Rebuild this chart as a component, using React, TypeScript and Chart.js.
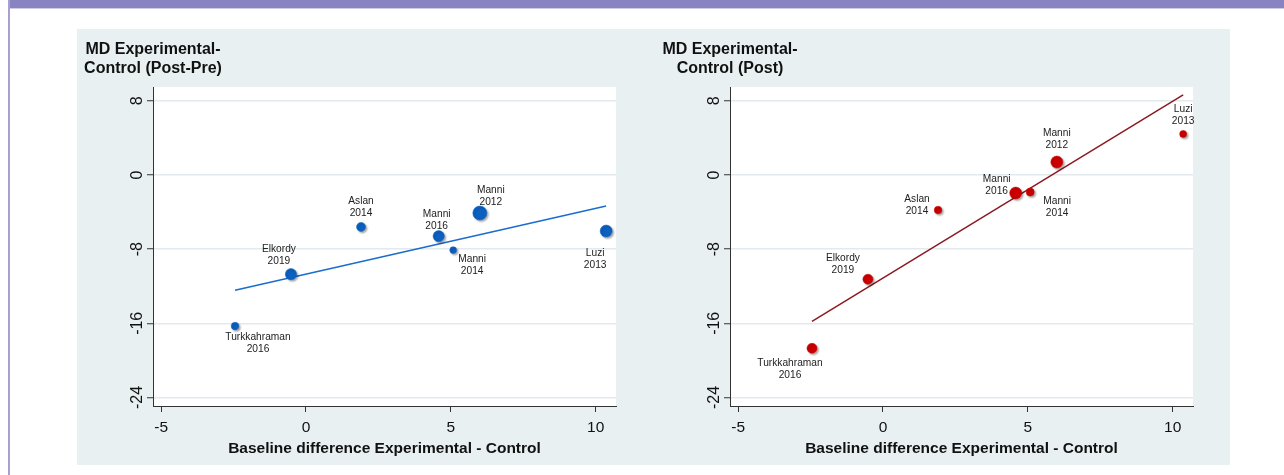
import React, { useEffect, useRef } from 'react';
import { Chart, registerables } from 'chart.js';

Chart.register(...registerables);

// ---------- Data ----------
const studyNames = ['Turkkahraman', 'Elkordy', 'Aslan', 'Manni', 'Manni', 'Manni', 'Luzi'];
const studyYears = ['2016', '2019', '2014', '2016', '2014', '2012', '2013'];
const baselineDiff = [-2.45, -0.52, 1.9, 4.58, 5.08, 6.0, 10.36];

const mdPostPre = [-16.3, -10.7, -5.6, -6.6, -8.1, -4.1, -6.05];
const weightPostPre = [3.8, 5.6, 4.5, 5.6, 3.4, 7, 6];
const fitPostPreX = [-2.45, 10.36];
const fitPostPreY = [-12.43, -3.35];

const mdPost = [-18.7, -11.24, -3.78, -1.95, -1.84, 1.4, 4.43];
const weightPost = [5, 5, 3.8, 6, 4, 6, 3.5];
const fitPostX = [-2.45, 10.36];
const fitPostY = [-15.8, 8.65];

const xTickValues = [-5, 0, 5, 10];
const yTickValues = [8, 0, -8, -16, -24];

const titlePostPre = ['MD Experimental-', 'Control (Post-Pre)'];
const titlePost = ['MD Experimental-', 'Control (Post)'];
const xAxisTitle = 'Baseline difference Experimental - Control';

// ---------- Label placement (style) ----------
const labelOffsetPostPre = [[23, 17], [-12, -19], [0, -20], [-2, -16], [19, 15], [11, -17], [-11, 28]];
const labelOffsetPost = [[-22, 21], [-25, -15], [-21, -5], [-19, -8], [27, 15], [0, -23], [0, -19]];

const FONT = '"Liberation Sans", Arial, Helvetica, sans-serif';

type PanelProps = {
  md: number[];
  weight: number[];
  fitX: number[];
  fitY: number[];
  title: string[];
  offsets: number[][];
  markerColor: string;
  lineColor: string;
  width: number;
  plotLeft: number;
  plotRight: number;
};

function Panel(props: PanelProps) {
  const ref = useRef<HTMLCanvasElement | null>(null);
  useEffect(() => {
    const canvas = ref.current;
    if (!canvas) return;
    const H = 436;
    const plotTop = 58;
    const plotBottom = 377;

    const textPlugin = {
      id: 'stataText',
      beforeDraw(chart: any) {
        const { ctx, chartArea } = chart;
        ctx.save();
        ctx.fillStyle = '#ffffff';
        ctx.fillRect(chartArea.left, chartArea.top, chartArea.right - chartArea.left, chartArea.bottom - chartArea.top);
        ctx.restore();
      },
      beforeDatasetDraw(chart: any, args: any) {
        if (args.index === 1) {
          const ctx = chart.ctx;
          ctx.save();
          ctx.shadowColor = 'rgba(0,0,0,0.35)';
          ctx.shadowBlur = 2;
          ctx.shadowOffsetX = 1.5;
          ctx.shadowOffsetY = 1.5;
        }
      },
      afterDatasetDraw(chart: any, args: any) {
        if (args.index === 1) chart.ctx.restore();
      },
      afterDraw(chart: any) {
        const { ctx, chartArea, scales } = chart;
        const xs = scales.x;
        const ys = scales.y;
        ctx.save();
        // titles
        ctx.fillStyle = '#111111';
        ctx.textAlign = 'center';
        ctx.textBaseline = 'middle';
        ctx.font = `bold 16px ${FONT}`;
        props.title.forEach((t, i) => ctx.fillText(t, chartArea.left, 21 + i * 19));
        ctx.font = `bold 15.5px ${FONT}`;
        ctx.fillText(xAxisTitle, (chartArea.left + chartArea.right) / 2, 420);
        // y tick labels (rotated)
        ctx.font = `16px ${FONT}`;
        yTickValues.forEach((v) => {
          const py = ys.getPixelForValue(v);
          ctx.save();
          ctx.translate(chartArea.left - 15, py);
          ctx.rotate(-Math.PI / 2);
          ctx.fillText(String(v), 0, 0);
          ctx.restore();
        });
        // marker labels
        ctx.font = `10.2px ${FONT}`;
        ctx.fillStyle = '#222222';
        baselineDiff.forEach((x, i) => {
          const px = xs.getPixelForValue(x);
          const py = ys.getPixelForValue(props.md[i]);
          const [dx, dy] = props.offsets[i];
          ctx.fillText(studyNames[i], px + dx, py + dy - 6);
          ctx.fillText(studyYears[i], px + dx, py + dy + 6);
        });
        ctx.restore();
      },
    };

    const chart = new Chart(canvas, {
      type: 'scatter',
      data: {
        datasets: [
          {
            data: props.fitX.map((x, i) => ({ x, y: props.fitY[i] })),
            showLine: true,
            borderColor: props.lineColor,
            borderWidth: 1.5,
            pointRadius: 0,
            order: 1,
          },
          {
            data: baselineDiff.map((x, i) => ({ x, y: props.md[i] })),
            pointRadius: props.weight,
            pointBackgroundColor: props.markerColor,
            pointBorderColor: props.markerColor,
            pointBorderWidth: 0.5,
            order: 0,
          },
        ],
      },
      options: {
        animation: false,
        responsive: false,
        devicePixelRatio: 1,
        layout: { padding: { top: plotTop, right: props.width - props.plotRight, left: 0, bottom: 0 } },
        plugins: { legend: { display: false }, tooltip: { enabled: false }, title: { display: false } },
        scales: {
          x: {
            type: 'linear',
            min: -5.28,
            max: 10.7,
            afterBuildTicks: (s: any) => {
              s.ticks = xTickValues.map((value) => ({ value }));
            },
            afterFit: (s: any) => {
              s.height = H - plotBottom;
            },
            grid: { drawOnChartArea: false, drawTicks: true, tickLength: 6, tickColor: '#333333', tickWidth: 1 },
            border: { display: true, color: '#333333', width: 1 },
            ticks: { font: { family: FONT, size: 15.5 }, color: '#111111', padding: 6, maxRotation: 0 },
          },
          y: {
            type: 'linear',
            min: -24.92,
            max: 9.49,
            afterBuildTicks: (s: any) => {
              s.ticks = yTickValues.map((value) => ({ value }));
            },
            afterFit: (s: any) => {
              s.width = props.plotLeft;
            },
            grid: { color: '#e2eaee', lineWidth: 1.5, drawTicks: true, tickLength: 6, tickColor: '#333333', tickWidth: 1 },
            border: { display: true, color: '#333333', width: 1 },
            ticks: { display: false },
          },
        },
      },
      plugins: [textPlugin],
    } as any);
    return () => chart.destroy();
  }, []);
  return <canvas ref={ref} width={props.width} height={436} style={{ display: 'block', width: props.width, height: 436 }} />;
}

export default function App() {
  return (
    <div style={{ position: 'fixed', left: 0, top: 0, width: 1284, height: 475, background: '#ffffff', overflow: 'hidden' }}>
      <div style={{ position: 'absolute', left: 10, top: 0, width: 1274, height: 8, background: '#8983c1' }} />
      <div style={{ position: 'absolute', left: 10, top: 8, width: 1274, height: 1, background: '#cfcbe6' }} />
      <div style={{ position: 'absolute', left: 8, top: 0, width: 2, height: 475, background: '#a99fd2' }} />
      <div style={{ position: 'absolute', left: 77, top: 29, width: 1153, height: 436, background: '#e8f0f2', display: 'flex' }}>
        <Panel
          md={mdPostPre}
          weight={weightPostPre}
          fitX={fitPostPreX}
          fitY={fitPostPreY}
          title={titlePostPre}
          offsets={labelOffsetPostPre}
          markerColor="#0b60c0"
          lineColor="#1a6dcc"
          width={576}
          plotLeft={76}
          plotRight={539}
        />
        <Panel
          md={mdPost}
          weight={weightPost}
          fitX={fitPostX}
          fitY={fitPostY}
          title={titlePost}
          offsets={labelOffsetPost}
          markerColor="#cc0000"
          lineColor="#8b1a22"
          width={577}
          plotLeft={77}
          plotRight={540}
        />
      </div>
    </div>
  );
}
